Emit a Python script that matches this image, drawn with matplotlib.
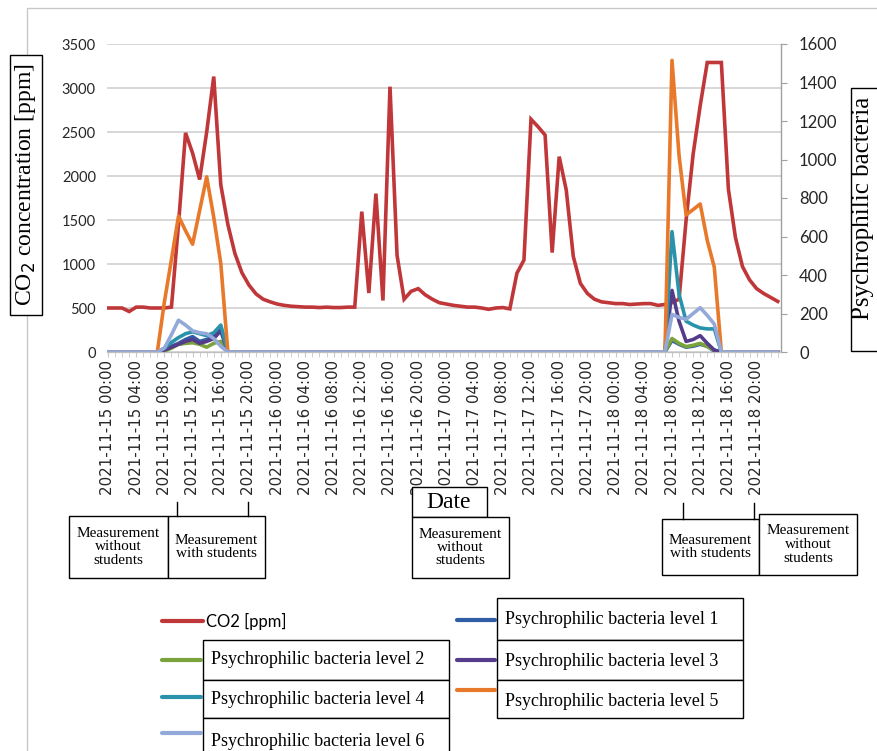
import numpy as np
import pandas as pd
import matplotlib
matplotlib.use("Agg")
import matplotlib.pyplot as plt
from matplotlib.patches import Rectangle
from matplotlib.lines import Line2D

W, H = 878, 751

# hourly CO2 readings, 2021-11-15 00:00 .. 2021-11-18 23:00
co2 = [500, 500, 500, 460, 510, 510, 500, 500, 500, 510,
       1450, 2490, 2260, 1960, 2500, 3130, 1900, 1450, 1120, 900,
       760, 660, 600, 570, 545, 530, 520, 515, 510, 510,
       505, 510, 505, 505, 510, 510, 1595, 670, 1800, 585,
       3015, 1100, 600, 690, 720, 650, 600, 560, 545, 530,
       520, 510, 510, 500, 485, 500, 505, 490, 895, 1045,
       2645, 2560, 2465, 1130, 2220, 1840, 1085, 780, 665, 600,
       570, 560, 550, 550, 540, 545, 550, 550, 530, 540,
       560, 600, 1500, 2250, 2800, 3290, 3290, 3290, 1850, 1300,
       970, 820, 720, 665, 620, 575]

# bacteria: measured on 15th (08:00-16:00) and 18th (08:00-14:00), zero otherwise
lvl1_d1 = [15, 30, 45, 65, 80, 55, 65, 80, 130]
lvl2_d1 = [5, 20, 40, 45, 48, 40, 25, 45, 55]
lvl3_d1 = [10, 25, 40, 55, 65, 45, 55, 70, 110]
lvl4_d1 = [20, 50, 75, 95, 105, 95, 85, 100, 140]
lvl5_d1 = [260, 480, 706, 630, 560, 735, 910, 700, 460]
lvl6_d1 = [20, 90, 165, 140, 110, 100, 95, 70, 30]

lvl1_d4 = [60, 40, 25, 30, 40, 30, 5]
lvl2_d4 = [70, 45, 28, 35, 45, 28, 10]
lvl3_d4 = [320, 160, 55, 65, 85, 45, 10]
lvl4_d4 = [625, 300, 160, 140, 125, 120, 120]
lvl5_d4 = [1515, 1020, 712, 740, 769, 580, 440]
lvl6_d4 = [195, 180, 170, 200, 230, 190, 145]

def full(d1, d4):
    return [0] * 8 + d1 + [0] * 63 + d4 + [0] * 9

bact = [full(lvl1_d1, lvl1_d4), full(lvl2_d1, lvl2_d4), full(lvl3_d1, lvl3_d4),
        full(lvl4_d1, lvl4_d4), full(lvl5_d1, lvl5_d4), full(lvl6_d1, lvl6_d4)]
bact_names = ["Psychrophilic bacteria level %d" % i for i in range(1, 7)]
bact_colors = ["#2F5DA6", "#7BA33B", "#553C8B", "#2A93AB", "#E8792A", "#93A9D9"]
co2_color = "#C0373A"

times = pd.date_range("2021-11-15 00:00", periods=96, freq="h")
hours = np.arange(len(times))
tick_idx = hours[::4][:24]
tick_labels = times[tick_idx].strftime("%Y-%m-%d %H:%M")

serif = "Liberation Serif"

fig = plt.figure(figsize=(W / 100, H / 100), dpi=100)

def fx(px):
    return px / W

def fy(py):
    return 1 - py / H

ax = fig.add_axes([fx(107), fy(352), (781 - 107) / W, (352 - 44) / H])
ax2 = ax.twinx()

ax.plot(hours, co2, color=co2_color, lw=2.6, solid_joinstyle="miter")
for vals, c in zip(bact, bact_colors):
    ax2.plot(hours, vals, color=c, lw=2.6)

ax.set_xlim(-0.14, 95.46)
ax.set_ylim(0, 3500)
ax2.set_ylim(0, 1600)
ax.set_yticks(np.arange(0, 3501, 500))
ax2.set_yticks(np.arange(0, 1601, 200))
ax.grid(axis="y", color="#D4D4D4", lw=1.3)
ax.set_axisbelow(True)

ax.set_xticks(tick_idx)
ax.set_xticklabels(tick_labels, rotation=90, family="DejaVu Sans", fontsize=10.8,
                   color="#262626")
ax.set_xticks(hours, minor=True)
ax.tick_params(axis="x", which="both", length=3.5, color="#C8C8C8", pad=2)
ax.tick_params(axis="y", length=0, pad=8, labelsize=10.5, labelcolor="#262626")
for lab in ax.get_yticklabels():
    lab.set_family("Lato")
ax2.tick_params(axis="y", length=4, color="#A0A0A0", pad=9, labelsize=12,
                labelcolor="#262626")
for lab in ax2.get_yticklabels():
    lab.set_family("Lato")

for a in (ax, ax2):
    a.spines["top"].set_visible(False)
    a.spines["left"].set_visible(False)
    a.spines["bottom"].set_color("#BFBFBF")
ax2.spines["right"].set_color("#A0A0A0")

# outer frame
fig.add_artist(Rectangle((fx(27), fy(760)), fx(900) - fx(27), fy(8) - fy(760),
                         transform=fig.transFigure, fill=False, ec="#C8C8C8", lw=1))

def box(x0, y0, x1, y1, lw=1.0):
    fig.add_artist(Rectangle((fx(x0), fy(y1)), fx(x1) - fx(x0), fy(y0) - fy(y1),
                             transform=fig.transFigure, fill=True, fc="white",
                             ec="black", lw=lw))

def vline(x, y0, y1):
    fig.add_artist(Line2D([fx(x), fx(x)], [fy(y0), fy(y1)], transform=fig.transFigure,
                          color="black", lw=1))

# axis titles
box(10, 55, 42, 315)
fig.text(fx(26), fy(185), "CO$_2$ concentration [ppm]", rotation=90, ha="center",
         va="center", family=serif, fontsize=17)
box(851, 88, 900, 351)
fig.text(fx(863), fy(208), "Psychrophilic bacteria", rotation=90, ha="center",
         va="center", family=serif, fontsize=18)
box(412, 487, 487, 517)
fig.text(fx(449), fy(503), "Date", ha="center", va="center", family=serif, fontsize=17)

# measurement period boxes
periods = [
    (69, 516, 168, 578, "Measurement\nwithout\nstudents"),
    (168, 516, 265, 578, "Measurement\nwith students"),
    (412, 517, 509, 578, "Measurement\nwithout\nstudents"),
    (662, 519, 759, 575, "Measurement\nwith students"),
    (759, 514, 857, 575, "Measurement\nwithout\nstudents"),
]
for x0, y0, x1, y1, t in periods:
    box(x0, y0, x1, y1)
    fig.text(fx((x0 + x1) / 2), fy((y0 + y1) / 2), t, ha="center", va="center",
             family=serif, fontsize=11, linespacing=1.05)
for x, y0, y1 in [(177, 502, 516), (248, 502, 516), (683, 503, 519), (754, 503, 519)]:
    vline(x, y0, y1)

# legend
def leg_line(x0, x1, y, c):
    fig.add_artist(Line2D([fx(x0), fx(x1)], [fy(y), fy(y)], transform=fig.transFigure,
                          color=c, lw=3, solid_capstyle="round"))

leg_line(162, 203, 621, co2_color)
fig.text(fx(206), fy(621), "CO2 [ppm]", ha="left", va="center", family="Lato", fontsize=12)

leg_left = [(1, 640, 680, 660, 660), (3, 680, 718, 697, 699), (5, 718, 765, 733, 741)]
leg_right = [(0, 598, 640, 620, 620), (2, 640, 680, 660, 662), (4, 680, 718, 690, 702)]
for i, y0, y1, ly, ty in leg_left:
    leg_line(162, 201, ly, bact_colors[i])
    box(203, y0, 449, y1)
    fig.text(fx(211), fy(ty), bact_names[i], ha="left", va="center", family=serif, fontsize=13)
for i, y0, y1, ly, ty in leg_right:
    leg_line(457, 495, ly, bact_colors[i])
    box(497, y0, 743, y1)
    fig.text(fx(505), fy(ty), bact_names[i], ha="left", va="center", family=serif, fontsize=13)

fig.savefig("out.png", dpi=100)
